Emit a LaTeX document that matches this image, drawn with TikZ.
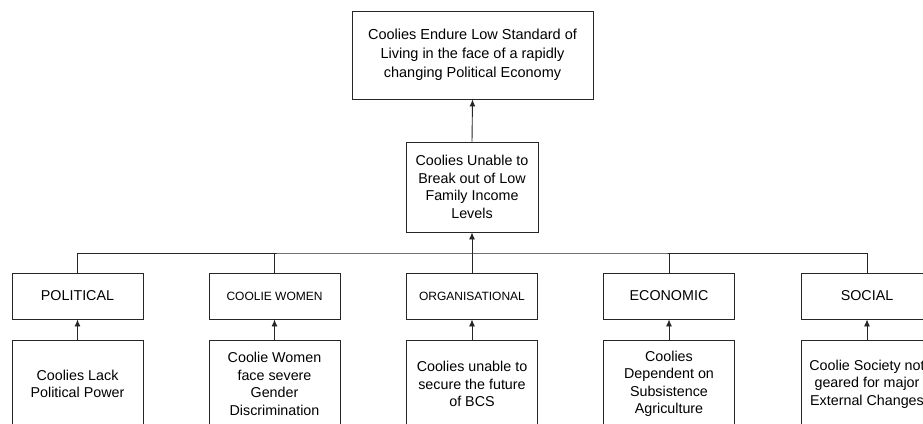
\documentclass[tikz,border=0pt]{standalone}
\usepackage{fontspec}
\setmainfont{Liberation Sans}
\usetikzlibrary{arrows.meta}
\begin{document}
\begin{tikzpicture}[x=1pt,y=-1pt,
  box/.style={draw=black!85, line width=0.9pt, inner sep=0pt, align=center, text=black,
    font=\fontsize{14.3}{17.5}\selectfont},
  rowbox/.style={box, minimum width=131pt, minimum height=46pt},
  lowbox/.style={box, minimum width=131pt, minimum height=88pt},
  small/.style={font=\fontsize{12}{14}\selectfont},
  arr/.style={-{Latex[length=7pt,width=6pt]}, line width=0.9pt, draw=black!85},
  ln/.style={line width=0.9pt, draw=black!85}]
\useasboundingbox (0,0) rectangle (923,423);
\clip (0,0) rectangle (923,423);
\node[box, minimum width=241pt, minimum height=88pt, font=\fontsize{14.5}{19}\selectfont] (top) at (472.5,55)
  {Coolies Endure Low Standard of\\Living in the face of a rapidly\\changing Political Economy};
\node[box, minimum width=132pt, minimum height=90pt] (mid) at (472,187)
  {Coolies Unable to\\Break out of Low\\Family Income\\Levels};
\node[rowbox] (pol) at (77.5,296) {POLITICAL};
\node[rowbox, small] (cw) at (274.5,296) {COOLIE WOMEN};
\node[rowbox, small] (org) at (472,296) {ORGANISATIONAL};
\node[rowbox] (eco) at (669,296) {ECONOMIC};
\node[rowbox] (soc) at (867,296) {SOCIAL};
\node[lowbox] (b1) at (77.5,384) {Coolies Lack\\Political Power};
\node[lowbox] (b2) at (274.5,384) {Coolie Women\\face severe\\Gender\\Discrimination};
\node[lowbox] (b3) at (472,384) {Coolies unable to\\secure the future\\of BCS};
\node[lowbox] (b4) at (669,384) {Coolies\\Dependent on\\Subsistence\\Agriculture};
\node[lowbox] (b5) at (867,384) {Coolie Society not\\geared for major\\External Changes};
\coordinate (hl) at (472,253);
\draw[arr] (mid.north) -- (top.south);
\draw[arr] (org.north) -- (mid.south);
\draw[ln] (pol.north) |- (hl) -| (soc.north);
\draw[ln] (cw.north) -- (cw.north |- hl);
\draw[ln] (eco.north) -- (eco.north |- hl);
\draw[arr] (b1.north) -- (pol.south);
\draw[arr] (b2.north) -- (cw.south);
\draw[arr] (b3.north) -- (org.south);
\draw[arr] (b4.north) -- (eco.south);
\draw[arr] (b5.north) -- (soc.south);
\end{tikzpicture}
\end{document}
